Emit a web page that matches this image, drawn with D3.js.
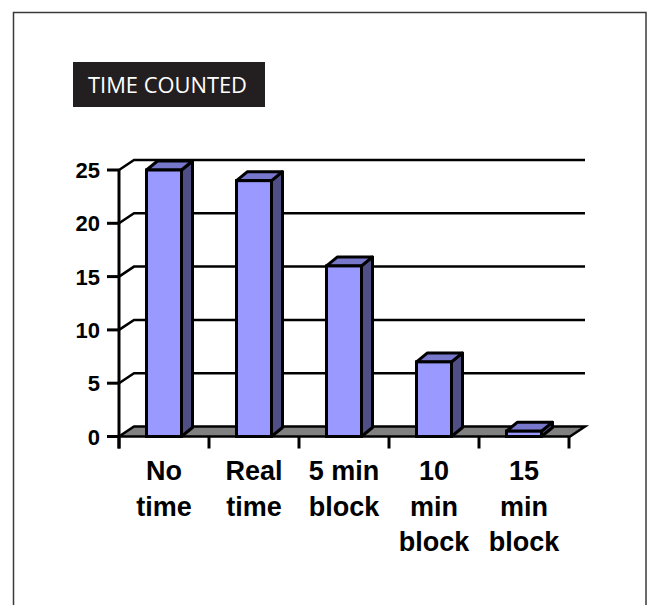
<!DOCTYPE html>
<html>
<head>
<meta charset="utf-8">
<script src="https://cdn.jsdelivr.net/npm/d3@7"></script>
<style>
  html, body { margin: 0; padding: 0; background: #fff; }
  svg { display: block; }
</style>
</head>
<body>
<svg id="chart" width="653" height="605"></svg>
<script>
// ---- data ----
const categories = ["No time", "Real time", "5 min block", "10 min block", "15 min block"];
const categoryLines = [["No", "time"], ["Real", "time"], ["5 min", "block"], ["10", "min", "block"], ["15", "min", "block"]];
const values = [25, 24, 16, 7, 0.5];
const yTicks = [0, 5, 10, 15, 20, 25];
const title = "TIME COUNTED";

// ---- layout ----
const svg = d3.select("#chart");
const x0 = 119, x1 = 569;
const yBottom = 436.5, yTop = 170;
const wallDx = 15, wallDy = -10;
const barDx = 11, barDy = -9;

const x = d3.scaleBand().domain(categories).range([x0, x1]).padding(0);
const y = d3.scaleLinear().domain([0, 25]).range([yBottom, yTop]);

// outer frame
svg.append("rect").attr("x", 13.5).attr("y", 12.5).attr("width", 632.5).attr("height", 610)
  .attr("fill", "none").attr("stroke", "#3a3a3a").attr("stroke-width", 1.5);

// title box
svg.append("rect").attr("x", 73).attr("y", 62).attr("width", 192).attr("height", 45).attr("fill", "#231f20");
svg.append("text").attr("x", 88).attr("y", 93)
  .attr("fill", "#fff").attr("font-family", "'Open Sans', sans-serif").attr("font-size", 21)
  .attr("font-weight", 500)
  .attr("textLength", 159).attr("lengthAdjust", "spacingAndGlyphs")
  .text(title);

const g = svg.append("g");

// gridlines on back wall with diagonals
yTicks.filter(v => v > 0).forEach(v => {
  const yy = y(v);
  g.append("path")
    .attr("d", `M${x0},${yy}L${x0 + wallDx},${yy + wallDy}L${x1 + wallDx + 1},${yy + wallDy}`)
    .attr("fill", "none").attr("stroke", "#000").attr("stroke-width", 2.5);
});

// floor
g.append("path")
  .attr("d", `M${x0},${yBottom}L${x1 + 1},${yBottom}L${x1 + 1 + wallDx},${yBottom + wallDy}L${x0 + wallDx},${yBottom + wallDy}Z`)
  .attr("fill", "#808080").attr("stroke", "#000").attr("stroke-width", 2.5).attr("stroke-linejoin", "miter");

// y axis
g.append("line").attr("x1", x0).attr("x2", x0).attr("y1", y(25)).attr("y2", yBottom + 12)
  .attr("stroke", "#000").attr("stroke-width", 3);
yTicks.forEach(v => {
  g.append("line").attr("x1", x0 - 12).attr("x2", x0).attr("y1", y(v)).attr("y2", y(v))
    .attr("stroke", "#000").attr("stroke-width", 3);
  g.append("text").attr("x", 100).attr("y", y(v) + 8).attr("text-anchor", "end")
    .attr("font-family", "'Liberation Sans', Arial, sans-serif").attr("font-weight", "bold")
    .attr("font-size", 22).attr("fill", "#000").text(v);
});

// category ticks
const bounds = categories.map(c => x(c)).concat([x1]);
bounds.forEach(b => {
  g.append("line").attr("x1", b).attr("x2", b).attr("y1", yBottom).attr("y2", yBottom + 12)
    .attr("stroke", "#000").attr("stroke-width", 3);
});

// bars
const bw = 35;
categories.forEach((c, i) => {
  const cx = x(c) + x.bandwidth() / 2;
  const L = cx - bw / 2, R = cx + bw / 2;
  const T = y(values[i]), B = yBottom;
  // side
  g.append("path")
    .attr("d", `M${R},${B}L${R + barDx},${B + barDy}L${R + barDx},${T + barDy}L${R},${T}Z`)
    .attr("fill", "#4f4f86").attr("stroke", "#000").attr("stroke-width", 3).attr("stroke-linejoin", "round");
  // top
  g.append("path")
    .attr("d", `M${L},${T}L${L + barDx},${T + barDy}L${R + barDx},${T + barDy}L${R},${T}Z`)
    .attr("fill", "#7777cc").attr("stroke", "#000").attr("stroke-width", 3).attr("stroke-linejoin", "round");
  // front
  g.append("rect").attr("x", L).attr("y", T).attr("width", bw).attr("height", B - T)
    .attr("fill", "#9999ff").attr("stroke", "#000").attr("stroke-width", 3);
});

// category labels
categories.forEach((c, i) => {
  const cx = x(c) + x.bandwidth() / 2;
  const t = g.append("text").attr("text-anchor", "middle")
    .attr("font-family", "'Liberation Sans', Arial, sans-serif").attr("font-weight", "bold")
    .attr("font-size", 27).attr("fill", "#000");
  categoryLines[i].forEach((ln, j) => {
    t.append("tspan").attr("x", cx).attr("y", 480 + j * 35.5).text(ln);
  });
});
</script>
</body>
</html>
